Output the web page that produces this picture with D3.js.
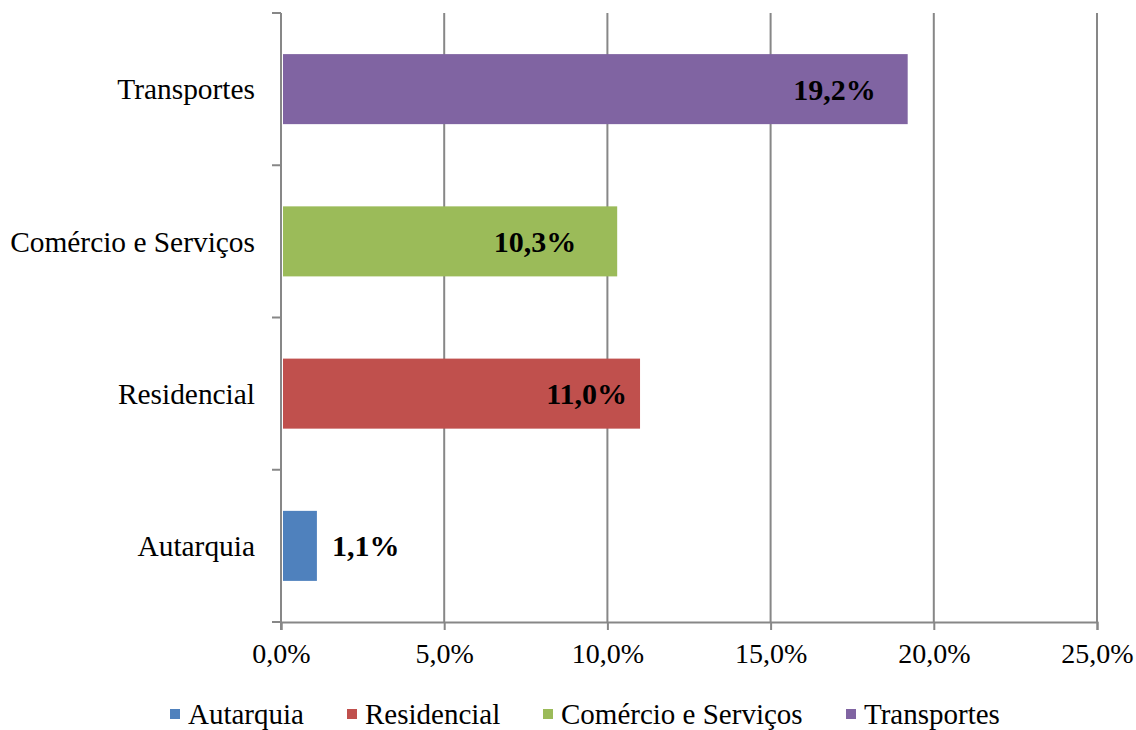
<!DOCTYPE html>
<html>
<head>
<meta charset="utf-8">
<script src="https://cdn.jsdelivr.net/npm/d3@7"></script>
<style>
  html, body { margin: 0; padding: 0; background: #fff; }
  svg { display: block; font-family: "Liberation Serif", "Times New Roman", serif; }
</style>
</head>
<body>
<svg id="chart" width="1136" height="730"></svg>
<script>
// Sector shares (%), bottom-to-top order as in the legend
const categories = ["Autarquia", "Residencial", "Comércio e Serviços", "Transportes"];
const values = [1.1, 11.0, 10.3, 19.2];
const valueLabels = ["1,1%", "11,0%", "10,3%", "19,2%"];
const colors = ["#4F81BD", "#C0504D", "#9BBB59", "#8064A2"];
const xTicks = [0, 5, 10, 15, 20, 25];
const xTickLabels = ["0,0%", "5,0%", "10,0%", "15,0%", "20,0%", "25,0%"];

// Label placement: anchor and horizontal pixel shift from the bar end
const labelLayout = [
  { anchor: "start", dx: 15 },
  { anchor: "end", dx: -13 },
  { anchor: "end", dx: -41 },
  { anchor: "end", dx: -32 }
];

const svg = d3.select("#chart");
const plotLeft = 281, plotRight = 1097, plotTop = 13, plotBottom = 622;

const x = d3.scaleLinear().domain([0, 25]).range([plotLeft, plotRight]);
const y = d3.scaleBand()
  .domain(categories.slice().reverse())
  .range([plotTop, plotBottom])
  .paddingInner(0.54)
  .paddingOuter(0.27);

const gridColor = "#878787";

// Vertical gridlines
svg.append("g")
  .selectAll("line")
  .data(xTicks.filter(d => d > 0))
  .join("line")
  .attr("x1", d => x(d)).attr("x2", d => x(d))
  .attr("y1", plotTop).attr("y2", plotBottom)
  .attr("stroke", gridColor).attr("stroke-width", 2);

// Bottom axis
const xAxis = d3.axisBottom(x)
  .tickValues(xTicks)
  .tickFormat((d, i) => xTickLabels[i])
  .tickSize(8)
  .tickPadding(13);
const gx = svg.append("g").attr("transform", `translate(0,${plotBottom})`).call(xAxis);
gx.select(".domain").attr("stroke", gridColor).attr("stroke-width", 2);
gx.selectAll(".tick line").attr("stroke", gridColor).attr("stroke-width", 2);
gx.selectAll(".tick text")
  .attr("fill", "#000")
  .style("font-family", '"Liberation Serif", "Times New Roman", serif')
  .style("font-size", "28px");

// Left axis: line with ticks at band boundaries
const boundaries = d3.range(categories.length + 1).map(i => plotTop + i * (plotBottom - plotTop) / categories.length);
svg.append("line")
  .attr("x1", plotLeft).attr("x2", plotLeft)
  .attr("y1", plotTop).attr("y2", plotBottom + 8)
  .attr("stroke", gridColor).attr("stroke-width", 2);
svg.append("g")
  .selectAll("line")
  .data(boundaries)
  .join("line")
  .attr("x1", plotLeft - 9).attr("x2", plotLeft)
  .attr("y1", d => d).attr("y2", d => d)
  .attr("stroke", gridColor).attr("stroke-width", 2);

// Category labels
svg.append("g")
  .selectAll("text")
  .data(categories)
  .join("text")
  .attr("x", plotLeft - 26)
  .attr("y", d => y(d) + y.bandwidth() / 2)
  .attr("dy", "0.35em")
  .attr("text-anchor", "end")
  .attr("font-size", 29.4)
  .attr("fill", "#000")
  .text(d => d);

// Bars
svg.append("g")
  .selectAll("rect")
  .data(categories)
  .join("rect")
  .attr("x", x(0) + 2)
  .attr("y", d => y(d))
  .attr("width", (d, i) => x(values[i]) - x(0) - 2)
  .attr("height", y.bandwidth())
  .attr("fill", (d, i) => colors[i]);

// Value labels
svg.append("g")
  .selectAll("text")
  .data(categories)
  .join("text")
  .attr("x", (d, i) => x(values[i]) + labelLayout[i].dx)
  .attr("y", d => y(d) + y.bandwidth() / 2)
  .attr("dy", "0.35em")
  .attr("text-anchor", (d, i) => labelLayout[i].anchor)
  .attr("font-size", 30)
  .attr("font-weight", "bold")
  .attr("fill", "#000")
  .text((d, i) => valueLabels[i]);

// Legend
const legendX = [170, 347, 543, 846];
const legend = svg.append("g")
  .selectAll("g")
  .data(categories)
  .join("g")
  .attr("transform", (d, i) => `translate(${legendX[i]},714)`);
legend.append("rect")
  .attr("x", 0).attr("y", -5)
  .attr("width", 10).attr("height", 10)
  .attr("fill", (d, i) => colors[i]);
legend.append("text")
  .attr("x", 18).attr("y", 0)
  .attr("dy", "0.35em")
  .attr("font-size", 29)
  .attr("fill", "#000")
  .text(d => d);
</script>
</body>
</html>
